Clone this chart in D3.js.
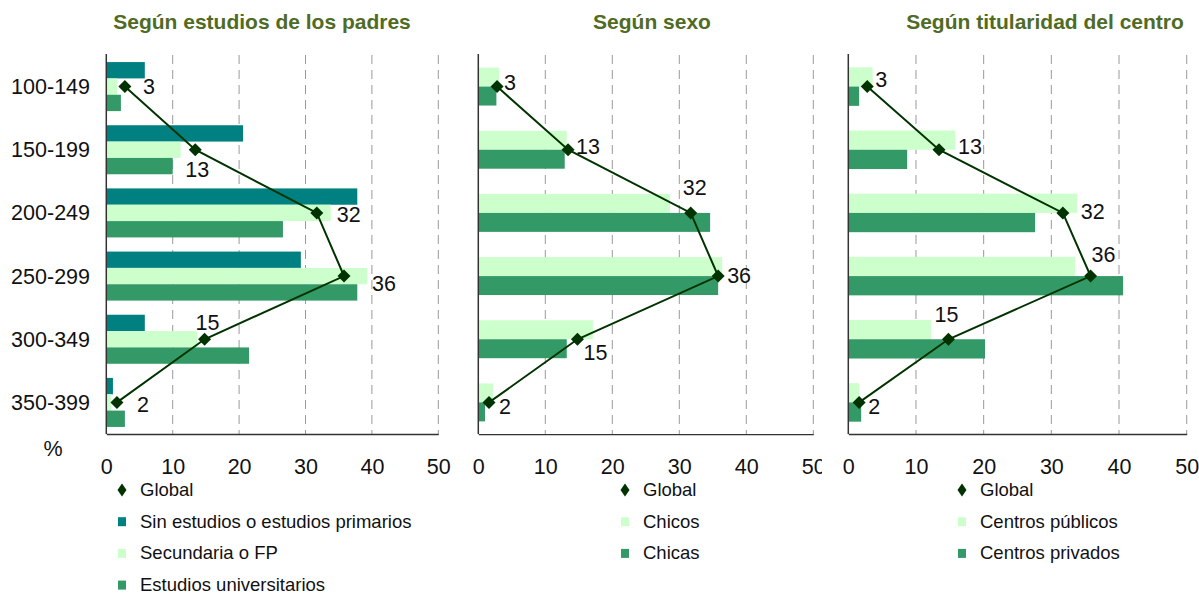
<!DOCTYPE html>
<html><head><meta charset="utf-8">
<script src="https://cdn.jsdelivr.net/npm/d3@7"></script>
<style>
body{margin:0;background:#fff;}
svg{display:block;font-family:"Liberation Sans",Arial,sans-serif;}
</style></head>
<body><svg id="c" width="1199" height="596"></svg>
<script>
const categories = ["100-149","150-199","200-249","250-299","300-349","350-399"];
const globalVals = [2.8, 13.4, 31.7, 35.8, 14.8, 1.6];
const sinEstudios = [5.8, 20.6, 37.8, 29.3, 5.8, 1.0];
const secundaria = [1.6, 11.2, 33.8, 39.3, 13.7, 0.7];
const universitarios = [2.2, 10.0, 26.6, 37.8, 21.5, 2.8];
const chicos = [3.1, 13.2, 28.6, 36.4, 17.1, 2.2];
const chicas = [2.7, 12.9, 34.6, 35.8, 13.2, 1.0];
const publicos = [3.6, 15.8, 33.8, 33.5, 12.2, 1.6];
const privados = [1.6, 8.7, 27.6, 40.6, 20.2, 1.9];
const xTicks = [0, 10, 20, 30, 40, 50];
const titles = ["Según estudios de los padres", "Según sexo", "Según titularidad del centro"];

const C_TEAL = "#008080", C_LIGHT = "#CCFFCC", C_DARK = "#339966", C_LINE = "#003300";

const panels = [
  {title: titles[0], x0: 106.3, x1: 438.3, titleX: 262, pad: 0.224, legendX: 140, clipRight: null,
   series: [{name: "Sin estudios o estudios primarios", vals: sinEstudios, color: C_TEAL},
            {name: "Secundaria o FP", vals: secundaria, color: C_LIGHT},
            {name: "Estudios universitarios", vals: universitarios, color: C_DARK}],
   lab: [[18,7],[-10,27],[20,9],[28,15],[-9,-9],[20,10]]},
  {title: titles[1], x0: 478.3, x1: 813.3, titleX: 652, pad: 0.4, legendX: 643, clipRight: 822,
   series: [{name: "Chicos", vals: chicos, color: C_LIGHT},
            {name: "Chicas", vals: chicas, color: C_DARK}],
   lab: [[7,3],[8,4],[-8,-18],[9,7],[6,21],[10,12]]},
  {title: titles[2], x0: 848.3, x1: 1186.7, titleX: 1045, pad: 0.39, legendX: 980, clipRight: null,
   series: [{name: "Centros públicos", vals: publicos, color: C_LIGHT},
            {name: "Centros privados", vals: privados, color: C_DARK}],
   lab: [[8,0],[19,4],[18,6],[1,-14],[-14,-17],[9,12]]}
];

const svg = d3.select("#c");
const yTop = 55, yBot = 434;
const FS = 21.5;

function diamond(hw, hh){ return `M0,${-hh}L${hw},0L0,${hh}L${-hw},0Z`; }

// y-axis category labels
const yBand0 = d3.scaleBand().domain(categories).range([yTop, yBot]);
svg.append("g").selectAll("text").data(categories).join("text")
  .attr("x", 90).attr("y", d => yBand0(d) + yBand0.bandwidth()/2 + 7.5)
  .attr("text-anchor", "end").attr("font-size", FS).attr("fill", "#111").text(d => d);
svg.append("text").attr("x", 53).attr("y", 456).attr("text-anchor", "middle")
  .attr("font-size", FS).attr("fill", "#111").text("%");

panels.forEach((p, pi) => {
  const g = svg.append("g");
  const x = d3.scaleLinear().domain([0, 50]).range([p.x0, p.x1]);
  const y = d3.scaleBand().domain(categories).range([yTop, yBot])
    .paddingInner(p.pad).paddingOuter(p.pad/2);
  const ySub = d3.scaleBand().domain(p.series.map(s => s.name)).range([0, y.bandwidth()]);
  const yc = d => y(d) + y.bandwidth()/2;

  // title
  svg.append("text").attr("x", p.titleX).attr("y", 29).attr("text-anchor", "middle")
    .attr("font-size", 21).attr("font-weight", "bold").attr("fill", "#4F6B24").text(p.title);

  // gridlines
  g.append("g").selectAll("line").data(xTicks.filter(t => t > 0)).join("line")
    .attr("x1", d => x(d)).attr("x2", d => x(d)).attr("y1", yTop).attr("y2", yBot)
    .attr("stroke", "#9a9a9a").attr("stroke-width", 1).attr("stroke-dasharray", "9,6");

  // bars
  p.series.forEach(s => {
    g.append("g").selectAll("rect").data(categories).join("rect")
      .attr("x", x(0)).attr("y", (d) => y(d) + ySub(s.name))
      .attr("width", (d, i) => x(s.vals[i]) - x(0)).attr("height", ySub.bandwidth())
      .attr("fill", s.color);
  });

  // axes
  const xAxis = d3.axisBottom(x).tickValues(xTicks).tickSize(0).tickPadding(0);
  const ax = g.append("g").attr("transform", `translate(0,${yBot})`).call(xAxis);
  ax.select(".domain").attr("stroke", "#333").attr("stroke-width", 1.5);
  ax.selectAll("text").attr("font-size", FS).attr("fill", "#111")
    .attr("font-family", "Liberation Sans, Arial, sans-serif").attr("dy", null).attr("y", 40);
  if (p.clipRight) {
    const id = "clip" + pi;
    svg.append("clipPath").attr("id", id).append("rect")
      .attr("x", p.x0 - 30).attr("y", 0).attr("width", p.clipRight - p.x0 + 30).attr("height", 596);
    ax.attr("clip-path", `url(#${id})`);
  }
  g.append("line").attr("x1", x(0)).attr("x2", x(0)).attr("y1", yTop - 1).attr("y2", yBot)
    .attr("stroke", "#333").attr("stroke-width", 1.5);

  // global line
  const line = d3.line().x((d, i) => x(globalVals[i])).y(d => yc(d));
  g.append("path").datum(categories).attr("d", line).attr("fill", "none")
    .attr("stroke", C_LINE).attr("stroke-width", 2);
  g.append("g").selectAll("path").data(categories).join("path")
    .attr("d", diamond(6.5, 6.5))
    .attr("transform", (d, i) => `translate(${x(globalVals[i])},${yc(d)})`)
    .attr("fill", C_LINE);
  g.append("g").selectAll("text").data(categories).join("text")
    .attr("x", (d, i) => x(globalVals[i]) + p.lab[i][0])
    .attr("y", (d, i) => yc(d) + p.lab[i][1])
    .attr("font-size", FS).attr("fill", "#111")
    .text((d, i) => d3.format(".0f")(globalVals[i]));

  // legend
  const items = [{name: "Global", type: "diamond", color: C_LINE}]
    .concat(p.series.map(s => ({name: s.name, type: "square", color: s.color})));
  const lg = svg.append("g");
  items.forEach((it, i) => {
    const cy = 490 + i * 31.7;
    const mx = p.legendX - 18;
    if (it.type === "diamond") {
      lg.append("path").attr("d", diamond(4.5, 6.5)).attr("transform", `translate(${mx},${cy})`).attr("fill", it.color);
    } else {
      lg.append("rect").attr("x", mx - 4).attr("y", cy - 4.5).attr("width", 8).attr("height", 9).attr("fill", it.color);
    }
    lg.append("text").attr("x", p.legendX).attr("y", cy + 6).attr("font-size", 18.5)
      .attr("fill", "#111").text(it.name);
  });
});
</script></body></html>
